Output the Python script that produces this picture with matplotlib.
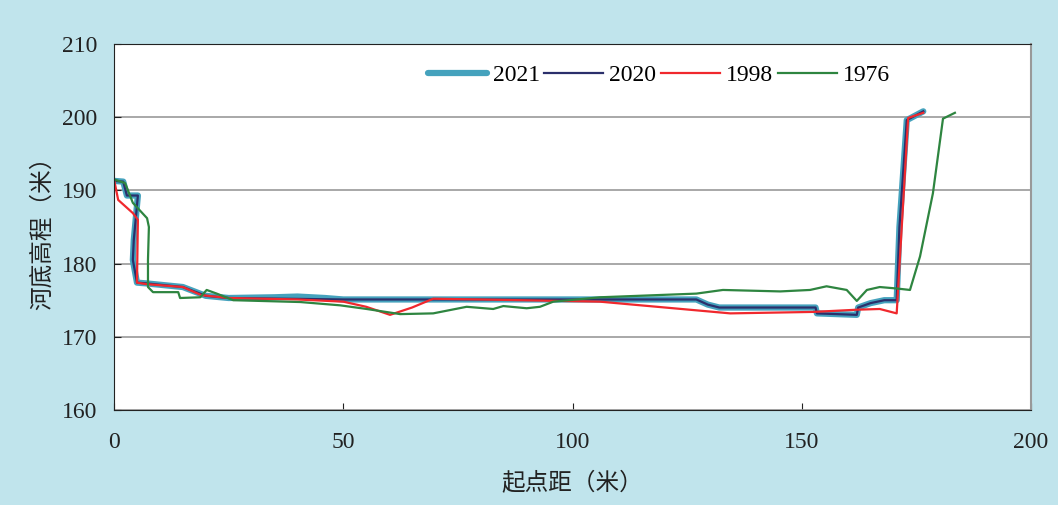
import matplotlib.pyplot as plt

plt.rcParams['font.family'] = ['Liberation Serif', 'Noto Sans CJK SC']

# 河底高程断面数据（起点距 米, 高程 米）
x2021 = [0, 2, 2.8, 5.2, 4.3, 4.1, 5, 7, 15, 20, 25, 35, 40, 46, 50, 100, 127, 129.5, 132,
         153, 153.3, 162, 162.3, 165, 168, 170.7, 171.3, 172.9, 176.5]
y2021 = [191.3, 191.2, 189.3, 189.3, 183.2, 180.5, 177.4, 177.3, 176.8, 175.6, 175.3, 175.4, 175.5, 175.3, 175.1, 175.1, 175.1, 174.4, 174.0,
         174.0, 173.2, 173.0, 174.0, 174.6, 175.0, 175.0, 185.0, 199.6, 200.8]

x2020 = [0, 2, 2.8, 5.2, 4.3, 4.1, 5, 7, 15, 20, 25, 50, 100, 127, 129.5, 132,
         153, 153.3, 162, 162.3, 165, 168, 170.7, 171.3, 172.9, 176.5]
y2020 = [191.3, 191.2, 189.3, 189.3, 183.2, 180.5, 177.4, 177.3, 176.8, 175.6, 175.3, 175.1, 175.1, 175.1, 174.4, 174.0,
         174.0, 173.2, 173.0, 174.0, 174.6, 175.0, 175.0, 185.0, 199.6, 200.8]

x1998 = [0, 0.9, 4.1, 5.2, 5.0, 7, 15, 19, 25, 40, 50, 55, 60.2, 65, 69.6, 80, 106,
         134.4, 152.5, 162, 167, 170.7, 173.2, 176.5]
y1998 = [191.5, 188.7, 186.9, 186.0, 177.4, 177.2, 176.8, 175.7, 175.3, 175.1, 174.8, 174.1, 173.0, 174.0, 175.2, 175.1, 174.8,
         173.2, 173.4, 173.7, 173.8, 173.2, 199.9, 200.6]

x1976 = [0, 2.4, 4.1, 7.2, 7.6, 7.4, 7.4, 8.5, 11.6, 14, 14.4, 18.8, 20.2, 22.4, 26, 40.6, 49.3,
         55.1, 62.4, 69.6, 76.9, 82.7, 84.9, 90, 92.9, 95.8, 106, 127, 132.8, 145.3, 151.8,
         155.4, 159.8, 162, 164.2, 167, 170.7, 173.6, 175.8, 178.6, 180.8, 183.4]
y1976 = [191.5, 191.0, 188.3, 186.2, 185.0, 180.5, 176.8, 176.1, 176.1, 176.1, 175.3, 175.4, 176.4, 175.9, 175.0, 174.75, 174.3,
         173.8, 173.1, 173.2, 174.1, 173.8, 174.2, 173.9, 174.1, 174.8, 175.4, 175.9, 176.4, 176.2, 176.4,
         176.9, 176.4, 174.9, 176.4, 176.8, 176.6, 176.4, 181.0, 189.6, 199.8, 200.6]

fig = plt.figure(figsize=(10.58, 5.05), dpi=100, facecolor='#c0e4ec')
ax = fig.add_axes([0.1078, 0.1881, 0.8667, 0.7248])
ax.set_facecolor('white')

ax.plot(x2021, y2021, color='#45a2bd', lw=4.5, label='2021', solid_joinstyle='round', solid_capstyle='round')
ax.plot(x2020, y2020, color='#2b2f6b', lw=1.6, label='2020', solid_joinstyle='round')
ax.plot(x1998, y1998, color='#f0282d', lw=1.6, label='1998', solid_joinstyle='round')
ax.plot(x1976, y1976, color='#2e8540', lw=1.6, label='1976', solid_joinstyle='round')

ax.set_xlim(0, 200)
ax.set_ylim(160, 210)
ax.set_xticks(range(0, 201, 50))
ax.set_yticks(range(160, 211, 10))
ax.yaxis.grid(True, color='#999999', lw=1.2)
ax.set_axisbelow(True)

ax.tick_params(axis='both', direction='in', length=5, labelsize=17, colors='#222222')
ax.tick_params(axis='x', pad=16)
ax.tick_params(axis='y', pad=12)

for s in ['left', 'top', 'bottom']:
    ax.spines[s].set_color('#222222')
ax.spines['right'].set_color('#999999')
ax.spines['right'].set_linewidth(1.5)

ax.set_xlabel('起点距（米）', fontsize=17, family=['Noto Sans CJK SC'], color='#222222', labelpad=14)
ax.set_ylabel('河底高程（米）', fontsize=17, family=['Noto Sans CJK SC'], color='#222222', labelpad=6)

ax.legend(loc='center', bbox_to_anchor=(0.594, 0.915), ncol=4, frameon=False,
          fontsize=17, handlelength=2.5, handletextpad=0.25, columnspacing=0.2)

fig.savefig('out.png', dpi=100, facecolor=fig.get_facecolor())
